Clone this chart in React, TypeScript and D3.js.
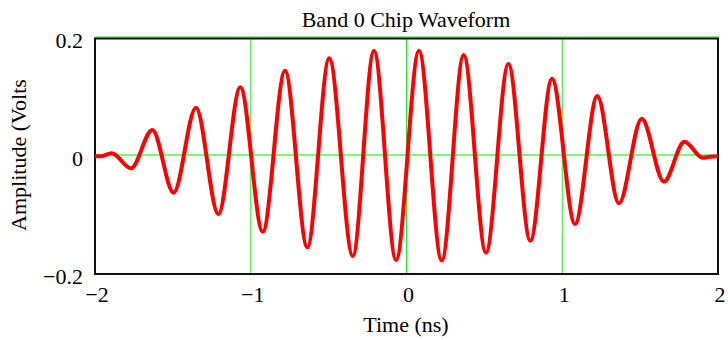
import React from 'react';
import * as d3 from 'd3';

// extrema of the chip waveform (time in ns, amplitude in volts)
const times = [
  -2.0, -1.96, -1.893, -1.769, -1.632, -1.495, -1.352, -1.208, -1.067, -0.923,
  -0.78, -0.637, -0.496, -0.345, -0.209, -0.067, 0.08, 0.226, 0.367, 0.51,
  0.654, 0.795, 0.934, 1.082, 1.225, 1.364, 1.51, 1.653, 1.784, 1.902, 1.95, 2.0,
];
const amplitudes = [
  -0.002, -0.002, 0.003, -0.0225, 0.0424, -0.0639, 0.0802, -0.1, 0.1147, -0.13,
  0.1429, -0.1564, 0.1639, -0.1712, 0.1768, -0.178, 0.1768, -0.179, 0.1695, -0.1656,
  0.1542, -0.1453, 0.1293, -0.117, 0.1, -0.0819, 0.0615, -0.0453, 0.0225, -0.0046, -0.003, -0.002,
];
const xTicks = [-2, -1, 0, 1, 2];
const yTicks = [-0.2, 0, 0.2];
const xTickLabels = ['\u22122', '\u22121', '0', '1', '2'];
const yTickLabels = ['\u22120.2', '0', '0.2'];

const W = 728;
const H = 340;
const font = '"Liberation Serif", "Times New Roman", serif';

export default function App() {
  const x = d3.scaleLinear().domain([-2, 2]).range([95, 718]);
  const y = d3.scaleLinear().domain([-0.2, 0.2]).range([273, 37]);

  const pts = times.map((t, i) => [t, amplitudes[i]] as [number, number]);
  const line = d3.line<[number, number]>()
    .x(d => x(d[0]))
    .y(d => y(d[1]))
    .curve(d3.curveMonotoneX);

  return (
    <svg width={W} height={H} style={{position: 'absolute', left: 0, top: 0, background: '#fff'}}
      fontFamily={font}>
      {/* grid */}
      {xTicks.slice(1, -1).map(t => (
        <line key={'gx' + t} x1={x(t)} x2={x(t)} y1={38} y2={274} stroke="#22ee22" strokeWidth={1} />
      ))}
      {yTicks.slice(1).map(t => (
        <line key={'gy' + t} x1={95} x2={719} y1={y(t)} y2={y(t)} stroke="#7ff57f" strokeWidth={2} />
      ))}
      {/* frame */}
      <rect x={95} y={38.5} width={623} height={235.5} fill="none" stroke="#111" strokeWidth={2} />

      <path d={line(pts) || ''} fill="none" stroke="#ff0000" strokeWidth={4} strokeLinejoin="round" />

      {/* tick labels */}
      {yTicks.map((t, i) => (
        <text key={'ty' + t} x={83} y={y(t) + 11} textAnchor="end" fontSize={22}>{yTickLabels[i]}</text>
      ))}
      {xTicks.map((t, i) => (
        <text key={'tx' + t} x={x(t) + 2} y={302} textAnchor="middle" fontSize={22}>{xTickLabels[i]}</text>
      ))}

      <text x={406} y={27} textAnchor="middle" fontSize={22}>Band 0 Chip Waveform</text>
      <text x={406} y={332} textAnchor="middle" fontSize={22}>Time (ns)</text>
      <text transform="translate(26,155) rotate(-90)" textAnchor="middle" fontSize={22}>Amplitude (Volts</text>
    </svg>
  );
}
